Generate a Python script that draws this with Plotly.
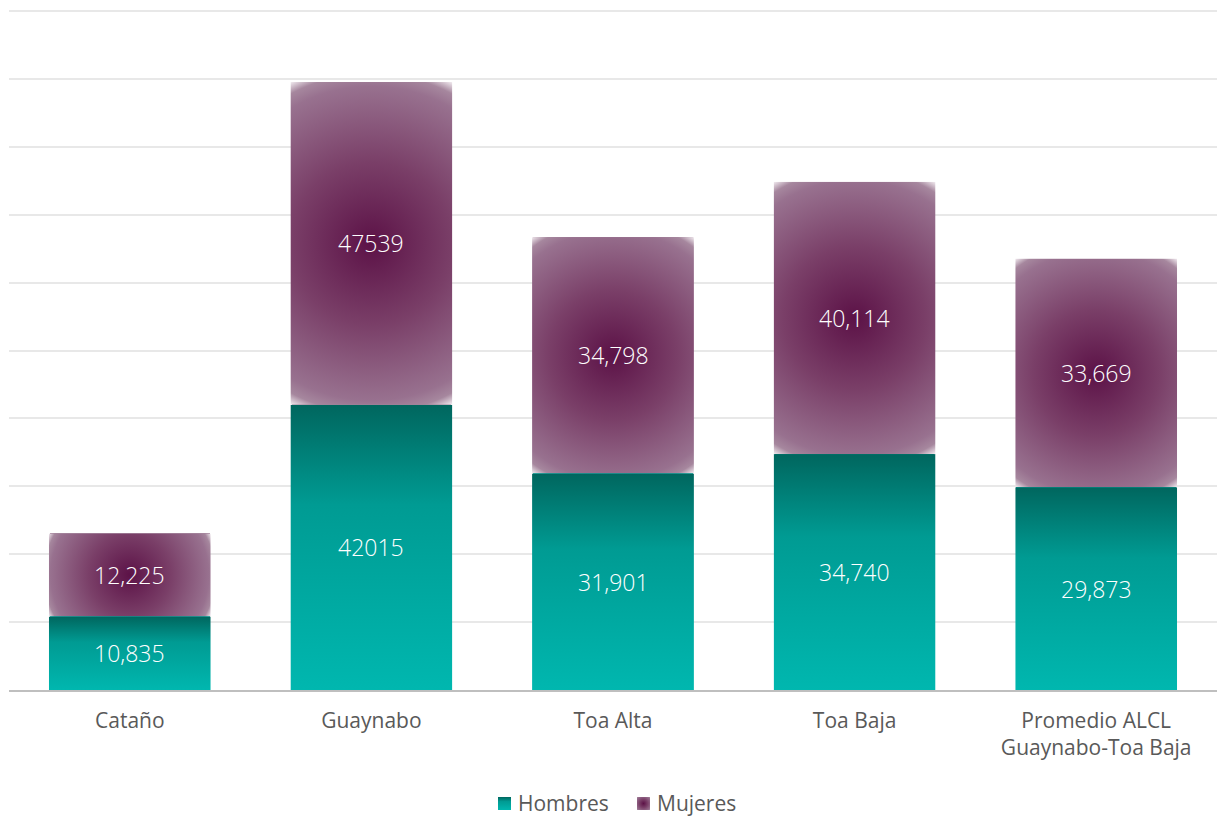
import base64
import math
import plotly.graph_objects as go

# Población por sexo
categories = ["Cataño", "Guaynabo", "Toa Alta", "Toa Baja", "Promedio ALCL<br>Guaynabo-Toa Baja"]
hombres = [10835, 42015, 31901, 34740, 29873]
mujeres = [12225, 47539, 34798, 40114, 33669]
# Guaynabo's labels are printed without a thousands separator
hombres_commas = [True, False, True, True, True]
mujeres_commas = [True, False, True, True, True]
series_names = ["Hombres", "Mujeres"]

W, H = 1217, 816
M_L, M_R, M_T, M_B = 9, 0, 1, 126
Y_MAX = 100000
GRID_SPAN_PX = 679  # pixel height from 0 to Y_MAX

plot_w = W - M_L - M_R
plot_h = H - M_T - M_B
px_per_unit = GRID_SPAN_PX / Y_MAX
Y_TOP = plot_h / px_per_unit  # a little headroom so the top gridline is drawn
BAR_W = 0.67
bar_px = plot_w / len(categories) * BAR_W

TEAL = "#00a39b"
PLUM_EDGE = "#a6879e"
TEXT_GREY = "#595959"


def svg_uri(svg):
    return "data:image/svg+xml;base64," + base64.b64encode(svg.encode("utf-8")).decode("ascii")


def teal_fill(w, h):
    svg = (
        f'<svg xmlns="http://www.w3.org/2000/svg" width="{w:.1f}" height="{h:.1f}" '
        f'viewBox="0 0 {w:.1f} {h:.1f}" preserveAspectRatio="none">'
        '<defs><linearGradient id="g" x1="0" y1="0" x2="0" y2="1">'
        '<stop offset="0" stop-color="#00665e"/>'
        '<stop offset="0.35" stop-color="#009b93"/>'
        '<stop offset="1" stop-color="#00b7af"/>'
        '</linearGradient></defs>'
        f'<rect x="0" y="0" width="{w:.1f}" height="{h:.1f}" fill="url(#g)"/></svg>'
    )
    return svg_uri(svg)


def plum_fill(w, h):
    r = math.hypot(w, h) / 2
    svg = (
        f'<svg xmlns="http://www.w3.org/2000/svg" width="{w:.1f}" height="{h:.1f}" '
        f'viewBox="0 0 {w:.1f} {h:.1f}" preserveAspectRatio="none">'
        f'<defs><radialGradient id="g" gradientUnits="userSpaceOnUse" cx="{w/2:.1f}" cy="{h/2:.1f}" r="{r:.1f}">'
        '<stop offset="0" stop-color="#5c1247"/>'
        '<stop offset="0.45" stop-color="#7a3f68"/>'
        '<stop offset="0.87" stop-color="#98718f"/>'
        '<stop offset="0.94" stop-color="#a6879e"/>'
        '<stop offset="1" stop-color="#f3edf1"/>'
        '</radialGradient></defs>'
        f'<rect x="0" y="0" width="{w:.1f}" height="{h:.1f}" fill="url(#g)"/></svg>'
    )
    return svg_uri(svg)


def fmt(v, commas):
    return f"{v:,}" if commas else f"{v}"


def px_to_paper_x(px):
    return (px - M_L) / plot_w


def px_to_paper_y(py):
    return (H - M_B - py) / plot_h


xs = list(range(len(categories)))

fig = go.Figure()
# Underlying bars sit slightly narrower than the gradient fills drawn over them
fig.add_trace(go.Bar(name=series_names[0], x=xs, y=hombres, width=BAR_W - 0.01,
                     marker=dict(color=TEAL, line=dict(width=0)), showlegend=False))
fig.add_trace(go.Bar(name=series_names[1], x=xs, y=mujeres, width=BAR_W - 0.01,
                     marker=dict(color=PLUM_EDGE, line=dict(width=0)), showlegend=False))

images = []
annotations = []
label_font = dict(family="Open Sans, DejaVu Sans, sans-serif", size=23, color="#ffffff", weight=300)
for i, (h_val, m_val) in enumerate(zip(hombres, mujeres)):
    h_px = h_val * px_per_unit
    m_px = m_val * px_per_unit
    images.append(dict(
        source=teal_fill(bar_px, h_px), xref="x", yref="y",
        x=i - BAR_W / 2, y=h_val, sizex=BAR_W, sizey=h_val,
        xanchor="left", yanchor="top", sizing="stretch", layer="above",
    ))
    images.append(dict(
        source=plum_fill(bar_px, m_px), xref="x", yref="y",
        x=i - BAR_W / 2, y=h_val + m_val, sizex=BAR_W, sizey=m_val,
        xanchor="left", yanchor="top", sizing="stretch", layer="above",
    ))
    annotations.append(dict(
        x=i, y=h_val / 2, xref="x", yref="y", text=fmt(h_val, hombres_commas[i]),
        showarrow=False, font=label_font,
    ))
    annotations.append(dict(
        x=i, y=h_val + m_val / 2, xref="x", yref="y", text=fmt(m_val, mujeres_commas[i]),
        showarrow=False, font=label_font,
    ))

# Legend: gradient swatches followed by the series names
legend_font = dict(family="Open Sans, sans-serif", size=21, color=TEXT_GREY)
swatch = 13
legend_items = [(498, 516, teal_fill(swatch, swatch)), (637, 655, plum_fill(swatch, swatch))]
for name, (sx, tx, src) in zip(series_names, legend_items):
    images.append(dict(
        source=src, xref="paper", yref="paper",
        x=px_to_paper_x(sx), y=px_to_paper_y(797),
        sizex=swatch / plot_w, sizey=swatch / plot_h,
        xanchor="left", yanchor="top", sizing="stretch", layer="above",
    ))
    annotations.append(dict(
        x=px_to_paper_x(tx), y=px_to_paper_y(803), xref="paper", yref="paper",
        xanchor="left", yanchor="middle", text=name, showarrow=False, font=legend_font,
    ))

fig.update_layout(
    width=W, height=H,
    margin=dict(l=M_L, r=M_R, t=M_T, b=M_B, pad=0, autoexpand=False),
    barmode="stack",
    paper_bgcolor="#ffffff", plot_bgcolor="#ffffff",
    font=dict(family="Open Sans, sans-serif", size=16, color=TEXT_GREY),
    images=images, annotations=annotations,
    showlegend=False,
    xaxis=dict(
        range=[-0.5, len(categories) - 0.5], tickmode="array", tickvals=xs, ticktext=categories,
        showgrid=False, zeroline=False, showline=True, linecolor="#bfbfbf", linewidth=1.5,
        ticks="", tickfont=dict(family="Open Sans, sans-serif", size=21, color=TEXT_GREY),
        ticklabelstandoff=11, automargin=False,
    ),
    yaxis=dict(
        range=[0, Y_TOP], tickmode="linear", tick0=0, dtick=10000, showticklabels=False, ticks="",
        showgrid=True, gridcolor="#e8e8e8", gridwidth=1.5, zeroline=False, automargin=False,
    ),
)

fig.write_html("out.html")
